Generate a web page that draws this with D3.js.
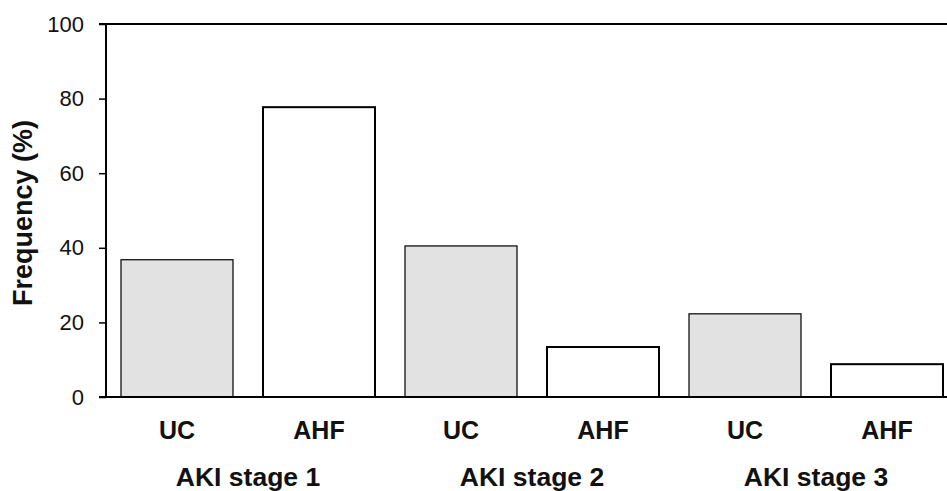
<!DOCTYPE html>
<html>
<head>
<meta charset="utf-8">
<script src="https://cdn.jsdelivr.net/npm/d3@7"></script>
<style>
  html, body { margin: 0; padding: 0; background: #fff; }
  svg { display: block; font-family: Arial, "Liberation Sans", sans-serif; }
</style>
</head>
<body>
<svg id="chart" width="947" height="491"></svg>
<script>
const groups = ["AKI stage 1", "AKI stage 2", "AKI stage 3"];
const series = ["UC", "AHF"];
const ucValues = [36.8, 40.5, 22.3];
const ahfValues = [77.7, 13.4, 8.8];
const yTicks = [0, 20, 40, 60, 80, 100];

(function () {
const data = [];
groups.forEach((g, i) => {
  data.push({ key: g + "|UC", group: g, series: "UC", value: ucValues[i] });
  data.push({ key: g + "|AHF", group: g, series: "AHF", value: ahfValues[i] });
});

const svg = d3.select("#chart");
const mLeft = 106, mTop = 24, mBottom = 397;
const step = 142;

const x = d3.scaleBand()
  .domain(data.map(d => d.key))
  .range([mLeft, mLeft + step * data.length])
  .paddingInner(30 / 142)
  .paddingOuter(15 / 142);

const y = d3.scaleLinear().domain([0, 100]).range([mBottom, mTop]);

// top border line
svg.append("line")
  .attr("x1", mLeft).attr("x2", 947)
  .attr("y1", y(100)).attr("y2", y(100))
  .attr("stroke", "#000").attr("stroke-width", 2);

// bars
svg.selectAll("rect.bar").data(data).join("rect")
  .attr("class", "bar")
  .attr("x", d => x(d.key))
  .attr("y", d => y(d.value))
  .attr("width", x.bandwidth())
  .attr("height", d => y(0) - y(d.value))
  .attr("fill", d => d.series === "UC" ? "#e2e2e2" : "#ffffff")
  .attr("stroke", "#000")
  .attr("stroke-width", d => d.series === "UC" ? 1.2 : 2);

// y axis
const yAxis = d3.axisLeft(y).tickValues(yTicks).tickSize(7).tickPadding(15);
const gy = svg.append("g").attr("transform", `translate(${mLeft},0)`).call(yAxis);
gy.select(".domain").attr("stroke-width", 2).attr("d", `M-7,${y(100)}H0V${y(0)}H-7`);
gy.selectAll(".tick line").attr("stroke-width", 1.5);
gy.selectAll(".tick text").attr("font-size", 22).attr("fill", "#111")
  .attr("font-family", "Arial, 'Liberation Sans', sans-serif");

// baseline
svg.append("line")
  .attr("x1", mLeft).attr("x2", 947)
  .attr("y1", y(0)).attr("y2", y(0))
  .attr("stroke", "#000").attr("stroke-width", 2);

// series labels
svg.selectAll("text.slab").data(data).join("text")
  .attr("class", "slab")
  .attr("x", d => x(d.key) + x.bandwidth() / 2)
  .attr("y", 439)
  .attr("text-anchor", "middle")
  .attr("font-size", 25).attr("font-weight", "bold").attr("fill", "#111")
  .text(d => d.series);

// group labels
svg.selectAll("text.glab").data(groups).join("text")
  .attr("class", "glab")
  .attr("x", g => (x(g + "|UC") + x(g + "|AHF") + x.bandwidth()) / 2)
  .attr("y", 486)
  .attr("text-anchor", "middle")
  .attr("font-size", 26.5).attr("font-weight", "bold").attr("fill", "#111")
  .text(g => g);

// y title
svg.append("text")
  .attr("transform", `translate(32,${213}) rotate(-90)`)
  .attr("text-anchor", "middle")
  .attr("font-size", 27).attr("font-weight", "bold").attr("fill", "#111")
  .text("Frequency (%)");
})();
</script>
</body>
</html>
